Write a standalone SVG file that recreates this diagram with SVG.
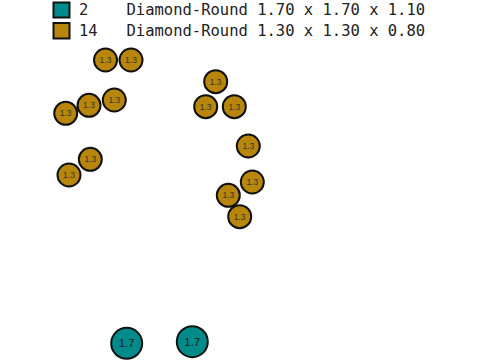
<svg xmlns="http://www.w3.org/2000/svg" width="480" height="360" viewBox="0 0 480 360">
<style>
.leg{font-family:"DejaVu Sans Mono","Liberation Mono",monospace;font-size:15.5px;fill:#222}
.s{fill:#b8860b;stroke:#111;stroke-width:2}
.l{fill:#008b8b;stroke:#111;stroke-width:2}
.ts{font-family:"Liberation Sans",Arial,sans-serif;font-size:8.5px;fill:#333;text-anchor:middle;dominant-baseline:central}
.tl{font-family:"Liberation Sans",Arial,sans-serif;font-size:11.5px;fill:#222;text-anchor:middle;dominant-baseline:central}
</style>
<rect width="480" height="360" fill="#fff"/>
<g id="legend">
<rect x="53.5" y="2.5" width="16" height="15" fill="#008b8b" stroke="#111" stroke-width="2"/>
<rect x="53.5" y="23" width="16" height="15.5" fill="#b8860b" stroke="#111" stroke-width="2"/>
<text class="leg" x="79" y="15">2</text>
<text class="leg" x="126.5" y="15">Diamond-Round 1.70 x 1.70 x 1.10</text>
<text class="leg" x="79" y="35.5">14</text>
<text class="leg" x="126.5" y="35.5">Diamond-Round 1.30 x 1.30 x 0.80</text>
</g>
<g id="connectors"/>
<g id="n1"><circle class="s" cx="105.5" cy="60" r="11.5"/><text class="ts" x="105.5" y="60">1.3</text></g>
<g id="n2"><circle class="s" cx="131" cy="60" r="11.5"/><text class="ts" x="131" y="60">1.3</text></g>
<g id="n3"><circle class="s" cx="65.7" cy="113.3" r="11.5"/><text class="ts" x="65.7" y="113.3">1.3</text></g>
<g id="n4"><circle class="s" cx="89" cy="105.3" r="11.5"/><text class="ts" x="89" y="105.3">1.3</text></g>
<g id="n5"><circle class="s" cx="114.3" cy="100" r="11.5"/><text class="ts" x="114.3" y="100">1.3</text></g>
<g id="n6"><circle class="s" cx="90.3" cy="159.3" r="11.5"/><text class="ts" x="90.3" y="159.3">1.3</text></g>
<g id="n7"><circle class="s" cx="69" cy="175" r="11.5"/><text class="ts" x="69" y="175">1.3</text></g>
<g id="n8"><circle class="s" cx="215.7" cy="81.7" r="11.5"/><text class="ts" x="215.7" y="81.7">1.3</text></g>
<g id="n9"><circle class="s" cx="205.7" cy="106.7" r="11.5"/><text class="ts" x="205.7" y="106.7">1.3</text></g>
<g id="n10"><circle class="s" cx="234.3" cy="106.7" r="11.5"/><text class="ts" x="234.3" y="106.7">1.3</text></g>
<g id="n11"><circle class="s" cx="248.3" cy="146" r="11.5"/><text class="ts" x="248.3" y="146">1.3</text></g>
<g id="n12"><circle class="s" cx="252.3" cy="182" r="11.5"/><text class="ts" x="252.3" y="182">1.3</text></g>
<g id="n13"><circle class="s" cx="228.3" cy="195.3" r="11.5"/><text class="ts" x="228.3" y="195.3">1.3</text></g>
<g id="n14"><circle class="s" cx="239.7" cy="216.7" r="11.5"/><text class="ts" x="239.7" y="216.7">1.3</text></g>
<g id="n15"><circle class="l" cx="126.7" cy="343.3" r="15.5"/><text class="tl" x="126.7" y="343.3">1.7</text></g>
<g id="n16"><circle class="l" cx="192.3" cy="341.7" r="15.5"/><text class="tl" x="192.3" y="341.7">1.7</text></g>
</svg>
